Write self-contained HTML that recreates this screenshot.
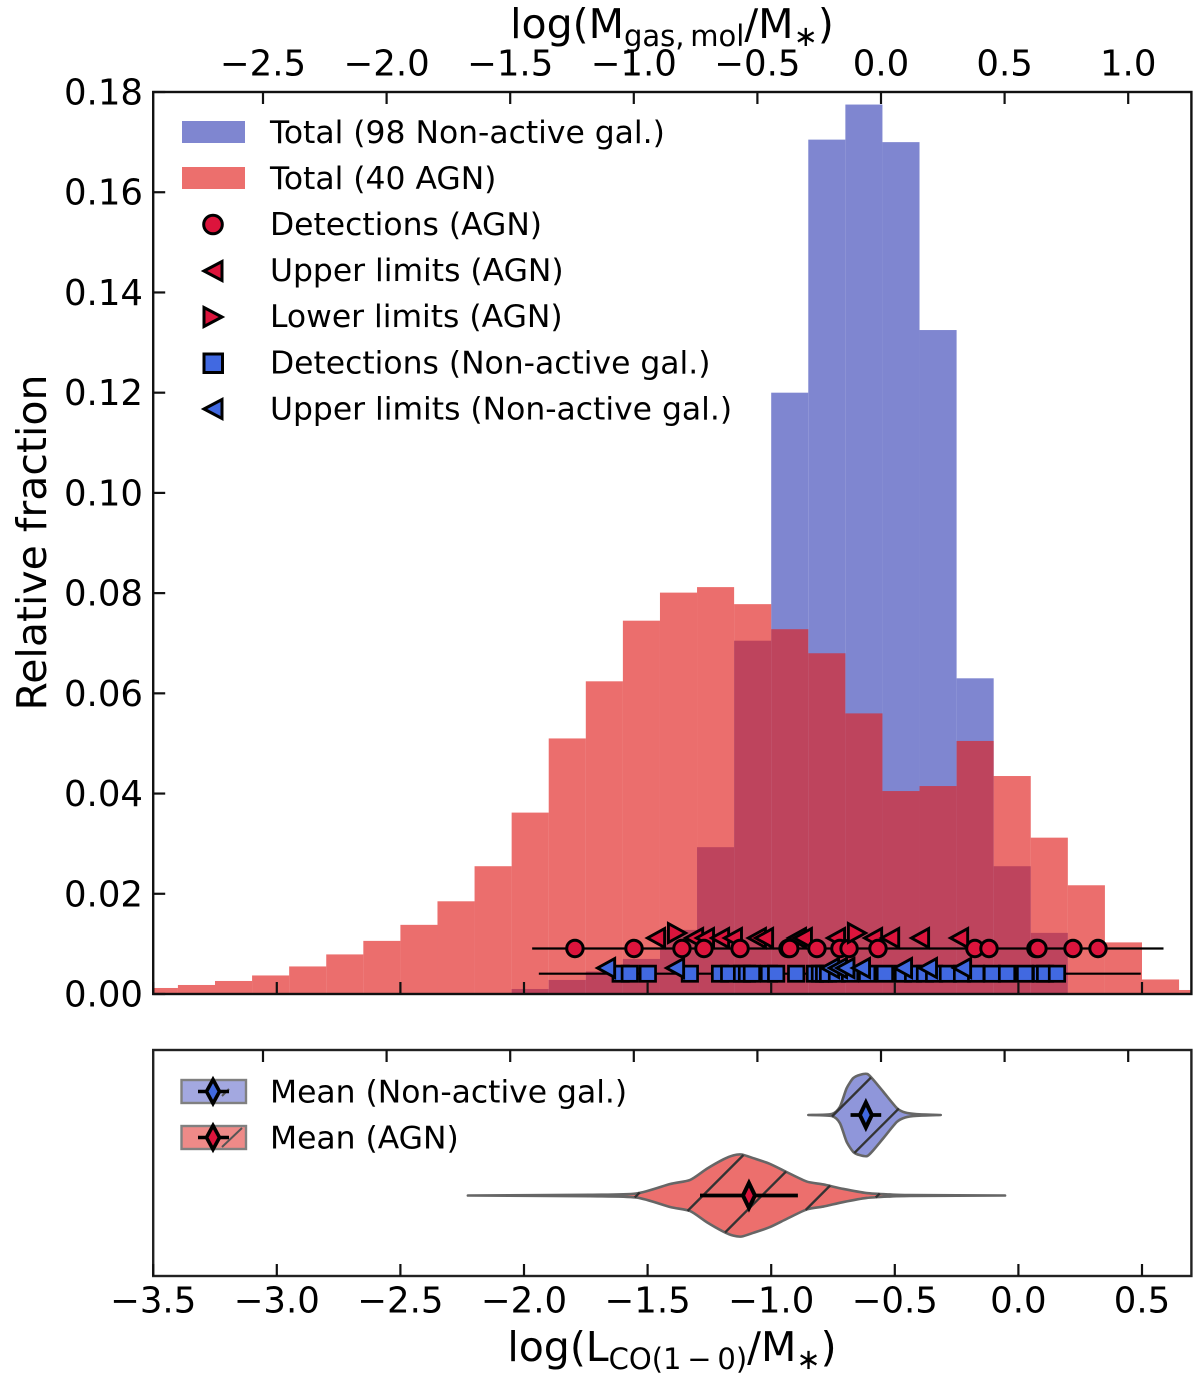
<!DOCTYPE html>
<html>
<head>
<meta charset="utf-8">
<title>CO luminosity distribution</title>
<style>
html,body{margin:0;padding:0;background:#fff;}
svg{display:block;font-family:"DejaVu Sans","Liberation Sans",sans-serif;fill:#000;}
</style>
</head>
<body>
<svg id="chart" xmlns="http://www.w3.org/2000/svg" width="1200" height="1374" viewBox="0 0 1200 1374">
<defs>
<clipPath id="main-clip"><rect x="153.2" y="92" width="1038.2" height="902"/></clipPath>
</defs>
<rect x="0" y="0" width="1200" height="1374" fill="#fff"/>
<g id="main-plot"></g>
<g id="violin-plot"></g>
<g id="axes-layer"></g>

<text x="672" y="38" text-anchor="middle" font-size="41">log(M<tspan font-size="29" dy="8">gas,&#8201;mol</tspan><tspan dy="-8">/M</tspan><tspan font-size="29" dy="8">∗</tspan><tspan dy="-8">)</tspan></text>
<text x="672" y="1361" text-anchor="middle" font-size="41">log(L<tspan font-size="29" dy="8">CO(1&#8201;−&#8201;0)</tspan><tspan dy="-8">/M</tspan><tspan font-size="29" dy="8">∗</tspan><tspan dy="-8">)</tspan></text>
<text transform="translate(46,542.5) rotate(-90)" text-anchor="middle" font-size="41">Relative fraction</text>

<g font-size="31.4">
  <g>
    <rect x="182" y="121" width="63" height="22" fill="#7f86d0"/>
    <text x="270" y="143">Total (98 Non-active gal.)</text>
  </g>
  <g>
    <rect x="182" y="167" width="63" height="22" fill="#ec6f6d"/>
    <text x="270" y="189">Total (40 AGN)</text>
  </g>
  <g>
    <circle cx="213" cy="224.5" r="9.3" fill="#dc143c" stroke="#000" stroke-width="3"/>
    <text x="270" y="235">Detections (AGN)</text>
  </g>
  <g>
    <polygon points="204,271 222,261.5 222,280.5" fill="#dc143c" stroke="#000" stroke-width="3"/>
    <text x="270" y="281">Upper limits (AGN)</text>
  </g>
  <g>
    <polygon points="222,317 204,307.5 204,326.5" fill="#dc143c" stroke="#000" stroke-width="3"/>
    <text x="270" y="327">Lower limits (AGN)</text>
  </g>
  <g>
    <rect x="204" y="354" width="18.5" height="18.5" fill="#4169e1" stroke="#000" stroke-width="3"/>
    <text x="270" y="373.500">Detections (Non-active gal.)</text>
  </g>
  <g>
    <polygon points="204,409 222,399.5 222,418.5" fill="#4169e1" stroke="#000" stroke-width="3"/>
    <text x="270" y="419.500">Upper limits (Non-active gal.)</text>
  </g>
</g>

<g font-size="31.4">
  <g>
    <rect x="181.500" y="1080" width="64.500" height="23" fill="#a3a8e0" stroke="#808080" stroke-width="2.4"/>
    <line x1="222" y1="1096" x2="229" y2="1089" stroke="#555" stroke-width="2"/>
    <line x1="198" y1="1091.500" x2="229" y2="1091.500" stroke="#000" stroke-width="3.6"/>
    <polygon points="213,1079.500 219.500,1091.500 213,1103.500 206.500,1091.500" fill="#4169e1" stroke="#000" stroke-width="3.6"/>
    <text x="270" y="1102.500">Mean (Non-active gal.)</text>
  </g>
  <g>
    <rect x="181.500" y="1126" width="64.500" height="23" fill="#ee8a88" stroke="#808080" stroke-width="2.4"/>
    <line x1="222" y1="1147" x2="242" y2="1128" stroke="#555" stroke-width="2"/>
    <line x1="198" y1="1137.500" x2="229" y2="1137.500" stroke="#000" stroke-width="3.6"/>
    <polygon points="213,1125.500 219.500,1137.500 213,1149.500 206.500,1137.500" fill="#dc143c" stroke="#000" stroke-width="3.6"/>
    <text x="270" y="1148.500">Mean (AGN)</text>
  </g>
</g>
</svg>

<script>
// ---- Histogram data ----
const binStarts = [-3.55,-3.4,-3.25,-3.1,-2.95,-2.8,-2.65,-2.5,-2.35,-2.2,-2.05,-1.9,-1.75,-1.6,-1.45,-1.3,-1.15,-1.0,-0.85,-0.7,-0.55,-0.4,-0.25,-0.1,0.05,0.2,0.35,0.5,0.65];
const agnFractions = [0.0012,0.0018,0.0026,0.0037,0.0055,0.0079,0.0106,0.0138,0.0185,0.0255,0.0362,0.051,0.0624,0.0745,0.0801,0.0812,0.0778,0.0728,0.068,0.056,0.0405,0.0415,0.0505,0.0435,0.0312,0.0217,0.0103,0.0029,0.0008];
const nonActiveFractions = [0,0,0,0,0,0,0,0,0,0,0.001,0.0028,0.0045,0.007,0.0128,0.0293,0.0705,0.12,0.1705,0.1775,0.17,0.1325,0.063,0.0255,0.0122,0,0,0,0];
const binWidth = 0.15;

// ---- Individual galaxies ----
const agnDetections = [-1.794,-1.555,-1.361,-1.272,-1.126,-0.932,-0.925,-0.815,-0.722,-0.685,-0.568,-0.176,-0.119,0.071,0.079,0.221,0.322];
const agnUpperLimits = [-1.466,-1.312,-1.268,-1.207,-1.155,-1.058,-1.029,-0.896,-0.872,-0.738,-0.588,-0.519,-0.398,-0.240];
const agnLowerLimits = [-1.381,-0.653];
const agnRange = [-1.967,0.587];
const nonActiveDetections = [-1.609,-1.572,-1.499,-1.329,-1.207,-1.170,-1.118,-1.098,-1.078,-1.009,-0.980,-0.899,-0.823,-0.803,-0.786,-0.770,-0.734,-0.681,-0.612,-0.540,-0.467,-0.426,-0.378,-0.341,-0.285,-0.228,-0.171,-0.107,-0.046,0.027,0.092,0.108,0.156];
const nonActiveUpperLimits = [-1.668,-1.389,-0.762,-0.730,-0.700,-0.637,-0.467,-0.366,-0.228];
const nonActiveRange = [-1.94,0.495];

// ---- Violins ----
const violinBlueGrid = [-0.850,-0.755,-0.722,-0.695,-0.668,-0.641,-0.611,-0.587,-0.547,-0.492,-0.458,-0.411,-0.314];
const violinBlueDensity = [0,0.025,0.2,0.65,0.9,0.98,1,0.86,0.57,0.17,0.06,0.02,0];
const violinBlueQuartiles = [-0.748,-0.510];
const violinBlueMean = -0.617;
const violinBlueMeanErr = 0.062;
const violinRedGrid = [-2.227,-1.733,-1.544,-1.409,-1.328,-1.261,-1.194,-1.153,-1.119,-1.072,-1.005,-0.937,-0.856,-0.789,-0.708,-0.614,-0.519,-0.439,-0.054];
const violinRedDensity = [0,0.016,0.05,0.28,0.38,0.65,0.88,0.98,1,0.91,0.77,0.57,0.34,0.27,0.16,0.06,0.025,0.01,0];
const violinRedQuartiles = [-1.544,-1.276,-1.037,-0.802,-0.569];
const violinRedMean = -1.090;
const violinRedMeanErr = 0.198;

// ---- Ticks ----
const bottomTicks = [-3.5,-3.0,-2.5,-2.0,-1.5,-1.0,-0.5,0.0,0.5];
const bottomTickLabels = ['−3.5','−3.0','−2.5','−2.0','−1.5','−1.0','−0.5','0.0','0.5'];
const topTicks = [-2.5,-2.0,-1.5,-1.0,-0.5,0.0,0.5,1.0];
const topTickLabels = ['−2.5','−2.0','−1.5','−1.0','−0.5','0.0','0.5','1.0'];
const yTicks = [0,0.02,0.04,0.06,0.08,0.10,0.12,0.14,0.16,0.18];
const yTickLabels = ['0.00','0.02','0.04','0.06','0.08','0.10','0.12','0.14','0.16','0.18'];

// ---- Axis functions ----
function xScale(v){ return 153.2 + (v + 3.5) * 247.2; }
function topScale(v){ return 881 + v * 247.2; }
function yScale(v){ return 994 - v * 5011; }

const NS = 'http://www.w3.org/2000/svg';
function make(tag, attrs, parent){
  const e = document.createElementNS(NS, tag);
  for (const k in attrs) e.setAttribute(k, attrs[k]);
  parent.appendChild(e);
  return e;
}
const main = document.getElementById('main-plot');
const violin = document.getElementById('violin-plot');
const axes = document.getElementById('axes-layer');

// Histogram bars
const barsGroup = make('g', {'clip-path':'url(#main-clip)'}, main);
nonActiveFractions.forEach(function(f, i){
  if (!f) return;
  const bar = make('rect', {x:xScale(binStarts[i]), y:yScale(f), width:binWidth*247.2, height:994-yScale(f), fill:'#7f86d0'}, barsGroup);
  
  
});
agnFractions.forEach(function(f, i){
  const bar = make('rect', {x:xScale(binStarts[i]), y:yScale(f), width:binWidth*247.2, height:994-yScale(f), fill:'rgb(224,33,30)', 'fill-opacity':0.65}, barsGroup);
  
  
});

// Range lines
const agnLine = make('line', {x1:xScale(agnRange[0]), x2:xScale(agnRange[1]), y1:948.5, y2:948.5, stroke:'#000', 'stroke-width':2.2}, main);


const blueLine = make('line', {x1:xScale(nonActiveRange[0]), x2:xScale(nonActiveRange[1]), y1:973.7, y2:973.7, stroke:'#000', 'stroke-width':2.2}, main);



// Markers
const S = 8.6;
function tri(px, py, dir, fill, parent){
  const pts = [[px + dir*S, py],[px - dir*S, py - S - 0.8],[px - dir*S, py + S + 0.8]].map(function(p){return p.join(',');}).join(' ');
  return make('polygon', {points:pts, fill:fill, stroke:'#000', 'stroke-width':2.9}, parent);
}
nonActiveDetections.forEach(function(v){
  const m = make('rect', {x:xScale(v)-7.7, y:966.1, width:15.4, height:15.2, fill:'#4169e1', stroke:'#000', 'stroke-width':2.7}, main);
  
  
});
nonActiveUpperLimits.forEach(function(v){
  const m = tri(xScale(v), 968, -1, '#4169e1', main);
  
  
});
agnUpperLimits.forEach(function(v){
  const m = tri(xScale(v), 938, -1, '#dc143c', main);
  
  
});
agnDetections.forEach(function(v){
  const m = make('circle', {cx:xScale(v), cy:948.5, r:8.2, fill:'#dc143c', stroke:'#000', 'stroke-width':3}, main);
  
  
});
agnLowerLimits.forEach(function(v){
  const m = tri(xScale(v), 933, 1, '#dc143c', main);
  
  
});

// Violins
function halfHeight(grid, dens, px, scale){
  for (let i = 0; i < grid.length - 1; i++){
    const a = xScale(grid[i]), b = xScale(grid[i+1]);
    if (px >= a && px <= b) return (dens[i] + (dens[i+1]-dens[i])*(px-a)/(b-a)) * scale;
  }
  return 0;
}
function smooth(pts){
  // Catmull-Rom style curve through the outline points
  let d = '';
  for (let i = 0; i < pts.length - 1; i++){
    const p0 = pts[Math.max(i-1,0)], p1 = pts[i], p2 = pts[i+1], p3 = pts[Math.min(i+2,pts.length-1)];
    const k = 0.12;
    d += ' C' + (p1[0]+(p2[0]-p0[0])*k) + ',' + (p1[1]+(p2[1]-p0[1])*k) + ' ' + (p2[0]-(p3[0]-p1[0])*k) + ',' + (p2[1]-(p3[1]-p1[1])*k) + ' ' + p2[0] + ',' + p2[1];
  }
  return d;
}
function drawViolin(grid, dens, quart, mean, err, cy, scale, fill, markerFill, name){
  const up = grid.map(function(v,i){return [xScale(v), cy-dens[i]*scale];});
  const lo = grid.map(function(v,i){return [xScale(v), cy+dens[i]*scale];}).reverse();
  const pathD = 'M' + up[0][0] + ',' + up[0][1] + smooth(up) + ' L' + lo[0][0] + ',' + lo[0][1] + smooth(lo) + ' Z';
  const body = make('path', {d:pathD, fill:fill, stroke:'#666', 'stroke-width':2.6, 'stroke-linejoin':'round'}, violin);
  
  
  quart.forEach(function(q){
    const px = xScale(q);
    let t1 = 0, t2 = 0;
    while (t1 < 60 && t1 <= halfHeight(grid, dens, px + t1, scale)) t1 += 0.5;
    while (t2 < 60 && t2 <= halfHeight(grid, dens, px - t2, scale)) t2 += 0.5;
    const ql = make('line', {x1:px+t1, y1:cy-t1, x2:px-t2, y2:cy+t2, stroke:'#333', 'stroke-width':2.3}, violin);
    
    
  });
  const bar = make('line', {x1:xScale(mean-err), x2:xScale(mean+err), y1:cy, y2:cy, stroke:'#000', 'stroke-width':3.8}, violin);
  
  
  const mx = xScale(mean);
  const d = make('polygon', {points:[mx,cy-12.5,mx+6,cy,mx,cy+12.5,mx-6,cy].join(' '), fill:markerFill, stroke:'#000', 'stroke-width':4}, violin);
  
  
}
drawViolin(violinBlueGrid, violinBlueDensity, violinBlueQuartiles, violinBlueMean, violinBlueMeanErr, 1115, 41, '#8f96da', '#4169e1', 'non-active');
drawViolin(violinRedGrid, violinRedDensity, violinRedQuartiles, violinRedMean, violinRedMeanErr, 1195.5, 41, '#ec6f6d', '#dc143c', 'agn');

// Axes frames
const mainFrame = make('rect', {x:153.2, y:92, width:1038.2, height:902, fill:'none', stroke:'#111', 'stroke-width':2.4}, axes);


const lowerFrame = make('rect', {x:153.2, y:1050, width:1038.2, height:226, fill:'none', stroke:'#222', 'stroke-width':2.4}, axes);



function tick(x1, y1, x2, y2, parent){
  return make('line', {x1:x1, y1:y1, x2:x2, y2:y2, stroke:'#111', 'stroke-width':2.2}, parent);
}
bottomTicks.forEach(function(v, i){
  const px = xScale(v);
  const t1 = tick(px, 994, px, 982, axes);
  
  
  const t2 = tick(px, 1276, px, 1264, axes);
  
  
  const lab = make('text', {x:px, y:1312.5, 'text-anchor':'middle', 'font-size':35.5}, axes);
  lab.textContent = bottomTickLabels[i];
  
  
});
topTicks.forEach(function(v, i){
  const px = topScale(v);
  const t1 = tick(px, 92, px, 104, axes);
  
  
  const t2 = tick(px, 1050, px, 1062, axes);
  
  
  const lab = make('text', {x:px, y:75.5, 'text-anchor':'middle', 'font-size':35.5}, axes);
  lab.textContent = topTickLabels[i];
  
  
});
yTicks.forEach(function(v, i){
  const py = yScale(v);
  const t = tick(153.2, py, 165.2, py, axes);
  
  
  const lab = make('text', {x:143, y:py+12.5, 'text-anchor':'end', 'font-size':35.5}, axes);
  lab.textContent = yTickLabels[i];
  
  
});
</script>
</body>
</html>
